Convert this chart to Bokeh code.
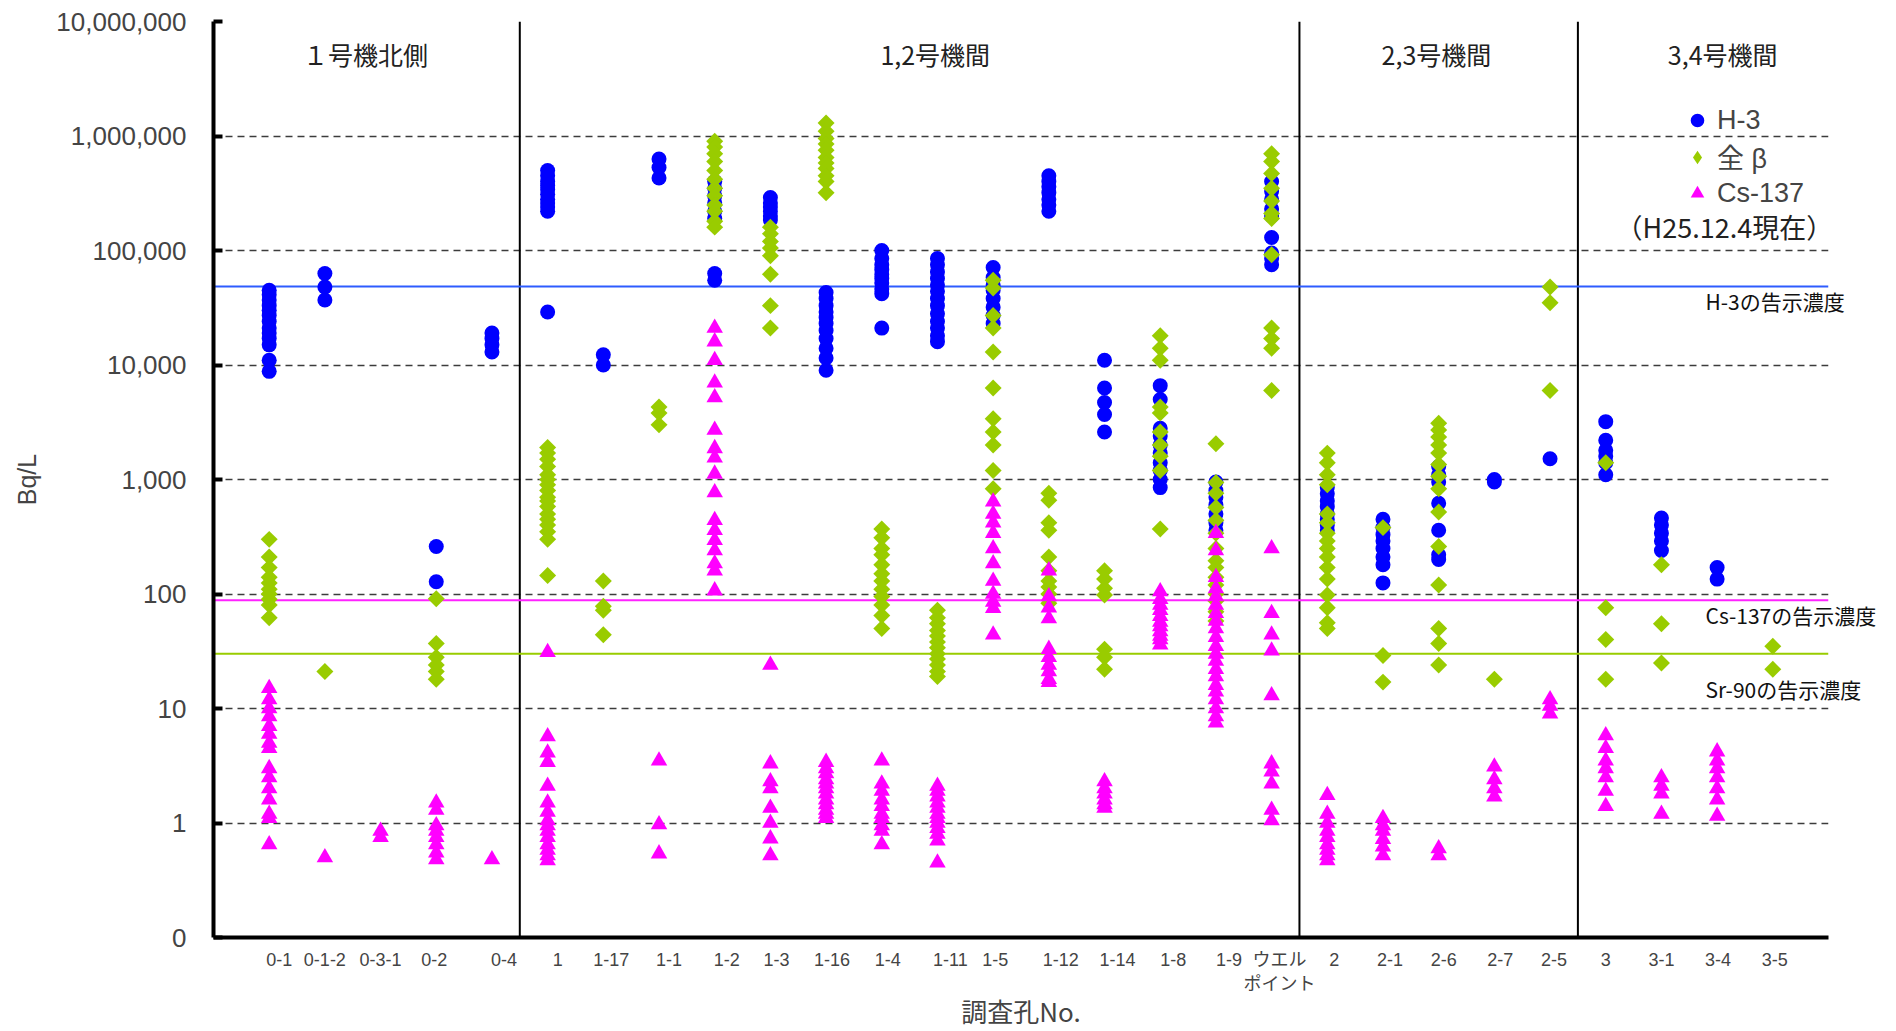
import numpy as np
from bokeh.plotting import figure
from bokeh.models import (ColumnDataSource, FixedTicker, Span, Label, Legend, LegendItem,
                          LogAxis, CDSView, IndexFilter)
from bokeh.embed import file_html
from bokeh.resources import INLINE

# ---------------- data ----------------
categories = ["0-1", "0-1-2", "0-3-1", "0-2", "0-4",
              "1", "1-17", "1-1", "1-2", "1-3", "1-16", "1-4", "1-11", "1-5",
              "1-12", "1-14", "1-8", "1-9", "ウエル\nポイント",
              "2", "2-1", "2-6", "2-7", "2-5",
              "3", "3-1", "3-4", "3-5"]
section_names = ["１号機北側", "1,2号機間", "2,3号機間", "3,4号機間"]
section_sizes = [5, 14, 5, 4]

h3 = [
    [45000, 41000, 37000, 33000, 30000, 27000, 24000, 21000, 19000, 17000, 15000, 11000, 8800],
    [63000, 48000, 37000],
    [],
    [260, 128],
    [19000, 17000, 15000, 13000],
    [500000, 450000, 400000, 370000, 340000, 310000, 280000, 260000, 240000, 220000, 29000],
    [12300, 10000],
    [630000, 530000, 430000],
    [400000, 350000, 300000, 260000, 220000, 190000, 63000, 55000],
    [290000, 260000, 240000, 220000, 200000, 185000],
    [43000, 38000, 33000, 29000, 26000, 23000, 20000, 17000, 14000, 11500, 9000],
    [100000, 85000, 75000, 68000, 62000, 57000, 52000, 46000, 42000, 21000],
    [85000, 75000, 65000, 57000, 50000, 44000, 38000, 33000, 28000, 24000, 21000, 18000, 16000],
    [71000, 58000, 50000, 45000, 38000, 32000, 27000, 23000],
    [450000, 400000, 360000, 320000, 280000, 250000, 220000],
    [11000, 6300, 4700, 3700, 2600],
    [6600, 5000, 2800, 2400, 2000, 1700, 1400, 1200, 1000, 850],
    [950, 800, 700, 600, 500, 420, 360],
    [400000, 330000, 280000, 230000, 200000, 130000, 95000, 85000, 75000],
    [850, 750, 650, 580, 500, 450, 400, 360],
    [450, 380, 330, 290, 250, 210, 180, 125],
    [1300, 1100, 950, 620, 360, 220, 200],
    [1000, 950],
    [1520],
    [3200, 2200, 1800, 1600, 1400, 1100],
    [460, 400, 340, 290, 240],
    [170, 135],
    [],
]

beta = [
    [300, 210, 170, 140, 125, 110, 100, 90, 80, 62],
    [21],
    [],
    [91, 37, 28, 24, 21, 18],
    [],
    [1900, 1700, 1500, 1300, 1100, 1000, 900, 800, 700, 650, 580, 500, 450, 400, 350, 300, 145],
    [130, 78, 72, 44],
    [4300, 3800, 3000],
    [900000, 800000, 700000, 600000, 500000, 420000, 350000, 300000, 250000, 220000, 180000, 160000],
    [160000, 140000, 120000, 105000, 90000, 62000, 33000, 21000],
    [1300000, 1100000, 950000, 850000, 750000, 650000, 580000, 520000, 450000, 400000, 320000],
    [370, 310, 250, 220, 180, 150, 130, 110, 95, 80, 65, 50],
    [72, 62, 55, 48, 43, 38, 34, 30, 27, 24, 21, 19],
    [55000, 47000, 27000, 21000, 13000, 6300, 3400, 2600, 2000, 1200, 830],
    [760, 660, 420, 360, 210, 160, 130, 115, 100, 83],
    [160, 135, 112, 98, 33, 28, 22],
    [18000, 14000, 11000, 4300, 3800, 2600, 2000, 1600, 1200, 370],
    [2050, 940, 760, 570, 440, 340, 250, 195, 170, 140, 120, 100, 87, 70, 58],
    [700000, 600000, 470000, 350000, 270000, 210000, 190000, 92000, 21000, 17000, 14000, 6000],
    [1700, 1400, 1100, 900, 500, 420, 340, 290, 250, 210, 170, 135, 98, 76, 56, 50],
    [380, 29, 17],
    [3100, 2700, 2350, 2000, 1700, 1350, 1070, 830, 520, 260, 120, 50, 37, 24],
    [18],
    [48000, 35000, 6000],
    [1400, 76, 40, 18],
    [180, 55, 25],
    [],
    [35, 22],
]

cs137 = [
    [15, 12, 10, 8.5, 7, 6, 5, 4.5, 3, 2.5, 2, 1.6, 1.2, 1.1, 0.65],
    [0.5],
    [0.85, 0.75],
    [1.5, 1.3, 0.95, 0.85, 0.75, 0.65, 0.55, 0.48],
    [0.48],
    [31, 5.7, 4.1, 3.4, 2.1, 1.5, 1.25, 1.05, 0.95, 0.85, 0.75, 0.65, 0.58, 0.52, 0.47],
    [],
    [3.5, 0.97, 0.54],
    [21000, 16000, 11000, 7000, 5200, 2700, 1870, 1550, 1120, 770, 440, 360, 295, 240, 185, 160, 107],
    [24, 3.3, 2.3, 2.0, 1.35, 1.0, 0.73, 0.52],
    [3.4, 3.0, 2.7, 2.4, 2.2, 2.0, 1.8, 1.6, 1.45, 1.3, 1.2, 1.1],
    [3.5, 2.2, 1.9, 1.6, 1.4, 1.2, 1.1, 0.95, 0.85, 0.65],
    [2.1, 1.9, 1.7, 1.5, 1.35, 1.2, 1.1, 1.0, 0.9, 0.8, 0.7, 0.45],
    [640, 500, 420, 340, 250, 185, 130, 100, 85, 75, 44],
    [160, 95, 76, 61, 33, 28, 24, 21, 18, 17],
    [2.3, 2.0, 1.8, 1.6, 1.45, 1.35],
    [105, 90, 80, 72, 64, 57, 52, 47, 43, 40, 36],
    [340, 240, 140, 112, 95, 80, 68, 58, 50, 42, 35, 30, 26, 22, 19, 16, 14, 12, 10, 8.5, 7.5],
    [250, 68, 44, 32, 13, 3.3, 2.8, 2.2, 1.3, 1.05],
    [1.75, 1.2, 1.0, 0.85, 0.75, 0.65, 0.58, 0.52, 0.47],
    [1.1, 0.95, 0.85, 0.72, 0.62, 0.52],
    [0.6, 0.52],
    [3.1, 2.4, 2.0, 1.7],
    [12, 10.5, 9],
    [5.8, 4.5, 3.5, 3.0, 2.5, 1.9, 1.4],
    [2.5, 2.1, 1.8, 1.2],
    [4.2, 3.5, 3.0, 2.5, 2.0, 1.6, 1.15],
    [],
]

limit_names = ["H-3の告示濃度", "Cs-137の告示濃度", "Sr-90の告示濃度"]
limit_values = [48500, 88, 30]

y_tick_values = [0.1, 1, 10, 100, 1000, 10000, 100000, 1000000, 10000000]
y_tick_labels = ["0", "1", "10", "100", "1,000", "10,000", "100,000", "1,000,000", "10,000,000"]

legend_labels = ["H-3", "全 β", "Cs-137"]
date_note = "（H25.12.4現在）"

# ---------------- layout constants ----------------
JP = "Noto Sans CJK JP"
MIX = "'Liberation Sans', 'Noto Sans CJK JP'"
n_cat = len(categories)
FRAME_W = 1615
px_per_cat = FRAME_W / (n_cat + 1)
# horizontal nudge (px) of each category caption relative to its column, as in the original
x_label_shift_px = [10, 0, 0, -2, 12, 10, 8, 10, 12, 6, 6, 6, 13, 2,
                    12, 13, 13, 13, 8, 7, 7, 5, 6, 4, 0, 0, 1, 2]

p = figure(frame_width=FRAME_W, frame_height=916,
           x_range=(0, n_cat + 1), y_range=(y_tick_values[0], y_tick_values[-1]),
           y_axis_type="log", output_backend="svg", toolbar_location=None,
           min_border_left=213, min_border_right=52, min_border_top=21, min_border_bottom=80)
p.outline_line_color = None
p.background_fill_color = "white"


def flat(series):
    xs, ys = [], []
    for i, vals in enumerate(series):
        xs += [i + 1] * len(vals)
        ys += list(vals)
    return ColumnDataSource(dict(x=xs, y=ys))


# grid
p.xgrid.visible = False
p.ygrid.grid_line_color = "#3c3c3c"
p.ygrid.grid_line_dash = "7 5"
p.ygrid.grid_line_width = 1.5

# section dividers
bounds = np.cumsum(section_sizes)[:-1] + 0.5
for b in bounds:
    p.add_layout(Span(location=float(b), dimension="height", line_color="black",
                      line_width=2, level="underlay"))

# limit lines
limit_colors = ["#2E5CFF", "#FF22FF", "#99CC00"]
for v, c in zip(limit_values, limit_colors):
    p.add_layout(Span(location=v, dimension="width", line_color=c, line_width=2,
                      level="underlay"))

C_H3, C_B, C_CS = "#0000FF", "#99CC00", "#FF00FF"
src_b = flat(beta)
r_h3 = p.scatter("x", "y", source=flat(h3), marker="circle", size=15,
                 fill_color=C_H3, line_color=None)
# legend-only diamond glyph (the legend ignores marker angle); it sits hidden under the
# first 全β marker, which is drawn on top of it with a larger footprint
r_b_leg = p.scatter("x", "y", source=src_b, view=CDSView(filter=IndexFilter(indices=[0])),
                    marker="diamond", size=14, fill_color=C_B, line_color=None)
r_b = p.scatter("x", "y", source=src_b, marker="square", angle=np.pi / 4, size=12,
                fill_color=C_B, line_color=None)
r_cs = p.scatter("x", "y", source=flat(cs137), marker="triangle", size=16.5,
                 fill_color=C_CS, line_color=None)

# axes
ya = p.yaxis[0]
ya.ticker = FixedTicker(ticks=y_tick_values)
ya.major_label_overrides = {v: s for v, s in zip(y_tick_values, y_tick_labels)}
ya.major_label_text_font = "Liberation Sans"
ya.major_label_text_font_size = "26px"
ya.major_label_standoff = 27
ya.axis_line_width = 4
ya.axis_line_color = "black"
ya.major_tick_in = 9
ya.major_tick_out = 0
ya.major_tick_line_width = 4
ya.minor_tick_line_color = None
ya.axis_label = "Bq/L"
ya.axis_label_text_font = "Liberation Sans"
ya.axis_label_text_font_size = "25px"
ya.axis_label_text_font_style = "normal"
ya.axis_label_standoff = 12

x_label_pos = [round(i + 1 + s / px_per_cat, 4) for i, s in enumerate(x_label_shift_px)]
xa = p.xaxis[0]
xa.ticker = FixedTicker(ticks=x_label_pos)
xa.major_label_overrides = {pos: c for pos, c in zip(x_label_pos, categories)}
xa.major_label_text_font = MIX
xa.major_label_text_font_size = "18px"
xa.major_label_standoff = 12
xa.axis_line_width = 4
xa.axis_line_color = "black"
xa.major_tick_in = 0
xa.major_tick_out = 0
xa.minor_tick_line_color = None
xa.axis_label = "調査孔No."
xa.axis_label_text_font = JP
xa.axis_label_text_font_size = "26px"
xa.axis_label_text_font_style = "normal"
xa.axis_label_standoff = -5

# limit-line captions as a right-hand axis (placed just below each line)
limit_label_y = [35900, 66, 14.7]
ra = LogAxis(ticker=FixedTicker(ticks=limit_label_y),
             major_label_overrides={v: s for v, s in zip(limit_label_y, limit_names)},
             axis_line_color=None, major_tick_line_color=None, minor_tick_line_color=None,
             major_tick_in=0, major_tick_out=0, major_label_standoff=-123,
             major_label_text_font=JP, major_label_text_font_size="21px",
             major_label_text_color="#111111")
p.add_layout(ra, "right")

# section titles
section_label_x = [2.73, 12.96, 21.96, 27.1]
for name, sx in zip(section_names, section_label_x):
    p.add_layout(Label(x=sx, y=5.2e6, text=name, text_font=JP, text_font_size="25px",
                       text_align="center", text_baseline="middle", text_color="#222222"))

# legend
legend = Legend(items=[LegendItem(label=legend_labels[0], renderers=[r_h3]),
                       LegendItem(label=legend_labels[1], renderers=[r_b_leg]),
                       LegendItem(label=legend_labels[2], renderers=[r_cs])],
                location=(1464, 727), border_line_color=None, background_fill_alpha=0,
                padding=0, margin=0, spacing=0, glyph_width=40, glyph_height=34,
                label_standoff=0, label_height=34, label_text_font=MIX,
                label_text_font_size="27px")
p.add_layout(legend)

p.add_layout(Label(x=27.13, y=1.62e5, text=date_note, text_font=JP, text_font_size="27px",
                   text_align="center", text_baseline="middle", text_color="#222222"))

open("out.html", "w").write(file_html(p, INLINE))
